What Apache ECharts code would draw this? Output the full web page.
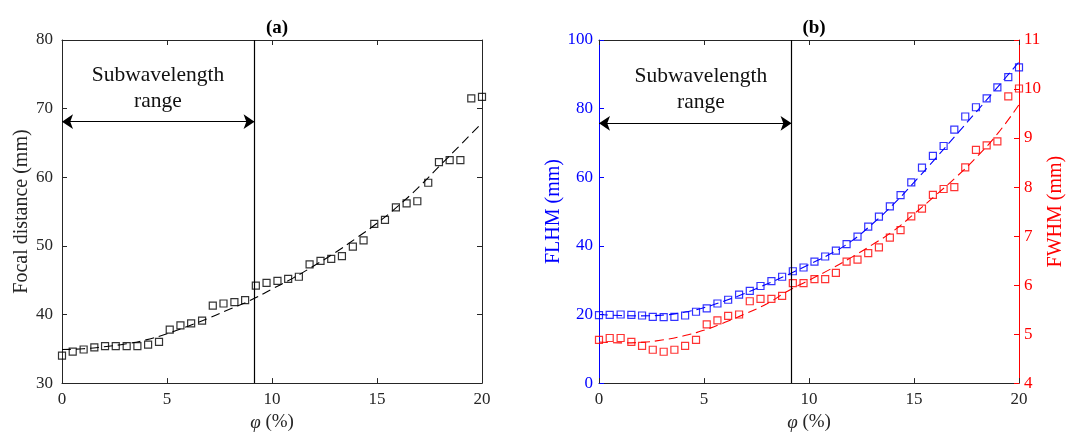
<!DOCTYPE html>
<html>
<head>
<meta charset="utf-8">
<script src="https://cdn.jsdelivr.net/npm/echarts@6/dist/echarts.min.js"></script>
<style>html,body{margin:0;padding:0;background:#fff}#c{width:1067px;height:437px}</style>
</head>
<body>
<div id="c"></div>
<script>
// ---- data ----
const phi = [0, 0.51, 1.03, 1.54, 2.05, 2.56, 3.08, 3.59, 4.10, 4.62, 5.13, 5.64, 6.15, 6.67, 7.18, 7.69, 8.21, 8.72, 9.23, 9.74,
             10.26, 10.77, 11.28, 11.79, 12.31, 12.82, 13.33, 13.85, 14.36, 14.87, 15.38, 15.90, 16.41, 16.92, 17.44, 17.95, 18.46, 18.97, 19.49, 20.00];
const focal = [34.0, 34.6, 34.9, 35.2, 35.4, 35.4, 35.4, 35.4, 35.6, 36.0, 37.8, 38.4, 38.7, 39.1, 41.3, 41.6, 41.8, 42.1, 44.2, 44.6,
               44.9, 45.2, 45.5, 47.3, 47.8, 48.1, 48.5, 49.9, 50.8, 53.2, 53.8, 55.6, 56.2, 56.5, 59.2, 62.2, 62.5, 62.5, 71.5, 71.7];
const flhm = [19.8, 19.9, 20.0, 19.9, 19.7, 19.3, 19.2, 19.3, 19.7, 20.8, 21.8, 23.2, 24.3, 25.8, 26.9, 28.3, 29.7, 31.0, 32.6, 33.7,
              35.4, 36.9, 38.6, 40.5, 42.7, 45.6, 48.5, 51.5, 54.8, 58.5, 62.8, 66.2, 69.1, 73.9, 77.7, 80.4, 83.0, 86.2, 89.2, 92.0];
const fwhm = [4.88, 4.92, 4.92, 4.84, 4.76, 4.68, 4.64, 4.68, 4.76, 4.88, 5.20, 5.28, 5.37, 5.40, 5.67, 5.72, 5.72, 5.78, 6.04, 6.04,
              6.12, 6.12, 6.25, 6.48, 6.52, 6.65, 6.77, 6.97, 7.12, 7.40, 7.56, 7.84, 7.96, 8.00, 8.40, 8.76, 8.85, 8.93, 9.85, 10.01];
const fitX = [0, 1, 2, 3, 4, 5, 6, 7, 8, 9, 10, 11, 12, 13, 14, 15, 16, 17, 18, 19, 20];
const focalFit = [34.9, 35.0, 35.3, 35.7, 36.3, 37.2, 38.3, 39.5, 40.8, 42.1, 43.7, 45.3, 47.1, 49.0, 51.1, 53.3, 55.8, 58.6, 61.7, 64.8, 67.9];
const flhmFit = [20.0, 19.7, 19.6, 19.8, 20.6, 22.0, 24.0, 26.3, 28.9, 31.6, 34.6, 37.6, 41.3, 46.3, 52.0, 58.5, 65.3, 72.3, 79.3, 86.4, 93.6];
const fwhmFit = [4.84, 4.82, 4.83, 4.88, 4.96, 5.08, 5.24, 5.42, 5.62, 5.88, 6.10, 6.32, 6.56, 6.82, 7.10, 7.45, 7.82, 8.20, 8.62, 9.10, 9.68];
const subBoundary = 9.17;       // end of subwavelength range (%)
const arrowYa = 68.1, arrowYb = 75.7;
const annoText = 'Subwavelength\nrange';
const titles = ['(a)', '(b)'];

// ---- styles ----
const FONT = '"Liberation Serif", "DejaVu Serif", serif';
const INK = '#262626', BLUE = '#0000ff', RED = '#ff0000';
const pair = (xs, ys) => xs.map((x, i) => [x, ys[i]]);

function xAx(grid, pos, showLabel) {
  return {
    type: 'value', gridIndex: grid, position: pos, min: 0, max: 20, interval: 5,
    axisLine: { show: true, onZero: false, lineStyle: { color: INK, width: 1 } },
    axisTick: { show: true, inside: true, length: 5, lineStyle: { color: INK } },
    axisLabel: { show: showLabel, color: INK, fontFamily: FONT, fontSize: 17, margin: 8 },
    splitLine: { show: false },
    name: showLabel ? '{i|φ} (%)' : '', nameLocation: 'middle', nameGap: 28,
    nameTextStyle: { color: INK, fontFamily: FONT, fontSize: 19,
      rich: { i: { fontStyle: 'italic', fontFamily: FONT, fontSize: 19, color: INK } } }
  };
}
function yAx(grid, pos, min, max, interval, color, showLabel, name, nameGap, margin) {
  return {
    type: 'value', gridIndex: grid, position: pos, min: min, max: max, interval: interval,
    axisLine: { show: true, onZero: false, lineStyle: { color: color, width: 1 } },
    axisTick: { show: true, inside: true, length: 5, lineStyle: { color: color } },
    axisLabel: { show: showLabel, color: color, fontFamily: FONT, fontSize: 17, margin: margin },
    splitLine: { show: false },
    name: name, nameLocation: 'middle', nameGap: nameGap,
    nameTextStyle: { color: color, fontFamily: FONT, fontSize: 20 }
  };
}
function fitLine(name, xi, yi, data, color) {
  return { name: name, type: 'line', xAxisIndex: xi, yAxisIndex: yi, data: data, smooth: true,
    showSymbol: false, silent: true, lineStyle: { color: color, width: 1.1, type: [9, 5] }, z: 2 };
}
function squares(name, xi, yi, data, color, extra) {
  return Object.assign({ name: name, type: 'scatter', xAxisIndex: xi, yAxisIndex: yi, data: data,
    symbol: 'rect', symbolSize: 7, silent: true,
    itemStyle: { color: 'rgba(0,0,0,0)', borderColor: color, borderWidth: 1.2 }, z: 3 }, extra || {});
}
function annotations(arrowY, yMin, yMax, textPos) {
  return {
    markLine: {
      silent: true, animation: false,
      data: [
        [{ coord: [0, arrowY], symbol: 'arrow' }, { coord: [subBoundary, arrowY], symbol: 'arrow' }],
        [{ coord: [subBoundary, yMin], symbol: 'none' }, { coord: [subBoundary, yMax], symbol: 'none' }]
      ],
      symbolSize: 11,
      lineStyle: { color: '#000', width: 1.2, type: 'solid' },
      label: { show: false }
    },
    markPoint: {
      silent: true, animation: false, symbol: 'rect', symbolSize: 0,
      data: [{ coord: textPos }],
      label: { show: true, position: 'inside', formatter: annoText, color: '#111',
        fontFamily: FONT, fontSize: 21.5, lineHeight: 26, align: 'center', verticalAlign: 'middle' }
    }
  };
}

const chart = echarts.init(document.getElementById('c'), null, { renderer: 'canvas' });
chart.setOption({
  animation: false,
  backgroundColor: '#fff',
  title: [
    { text: titles[0], left: 272, top: 14, textAlign: 'center',
      textStyle: { fontFamily: FONT, fontSize: 19, fontWeight: 'bold', color: '#000' } },
    { text: titles[1], left: 809, top: 14, textAlign: 'center',
      textStyle: { fontFamily: FONT, fontSize: 19, fontWeight: 'bold', color: '#000' } }
  ],
  grid: [
    { left: 62, top: 40, width: 420, height: 345 },
    { left: 599, top: 40, width: 420, height: 345 }
  ],
  xAxis: [xAx(0, 'bottom', true), xAx(0, 'top', false), xAx(1, 'bottom', true), xAx(1, 'top', false)],
  yAxis: [
    yAx(0, 'left', 30, 80, 10, INK, true, 'Focal distance (mm)', 30, 9),
    yAx(0, 'right', 30, 80, 10, INK, false, '', 0, 8),
    yAx(1, 'left', 0, 100, 20, BLUE, true, 'FLHM (mm)', 35, 6),
    yAx(1, 'right', 4, 11, 1, RED, true, 'FWHM (mm)', 27, 5)
  ],
  series: [
    fitLine('focal fit', 0, 0, pair(fitX, focalFit), '#000'),
    squares('focal', 0, 0, pair(phi, focal), '#000', annotations(arrowYa, 30, 80, [4.57, 73.0])),
    fitLine('FLHM fit', 2, 2, pair(fitX, flhmFit), BLUE),
    squares('FLHM', 2, 2, pair(phi, flhm), BLUE, annotations(arrowYb, 0, 100, [4.85, 85.7])),
    fitLine('FWHM fit', 2, 3, pair(fitX, fwhmFit), RED),
    squares('FWHM', 2, 3, pair(phi, fwhm), RED)
  ]
});
</script>
</body>
</html>
